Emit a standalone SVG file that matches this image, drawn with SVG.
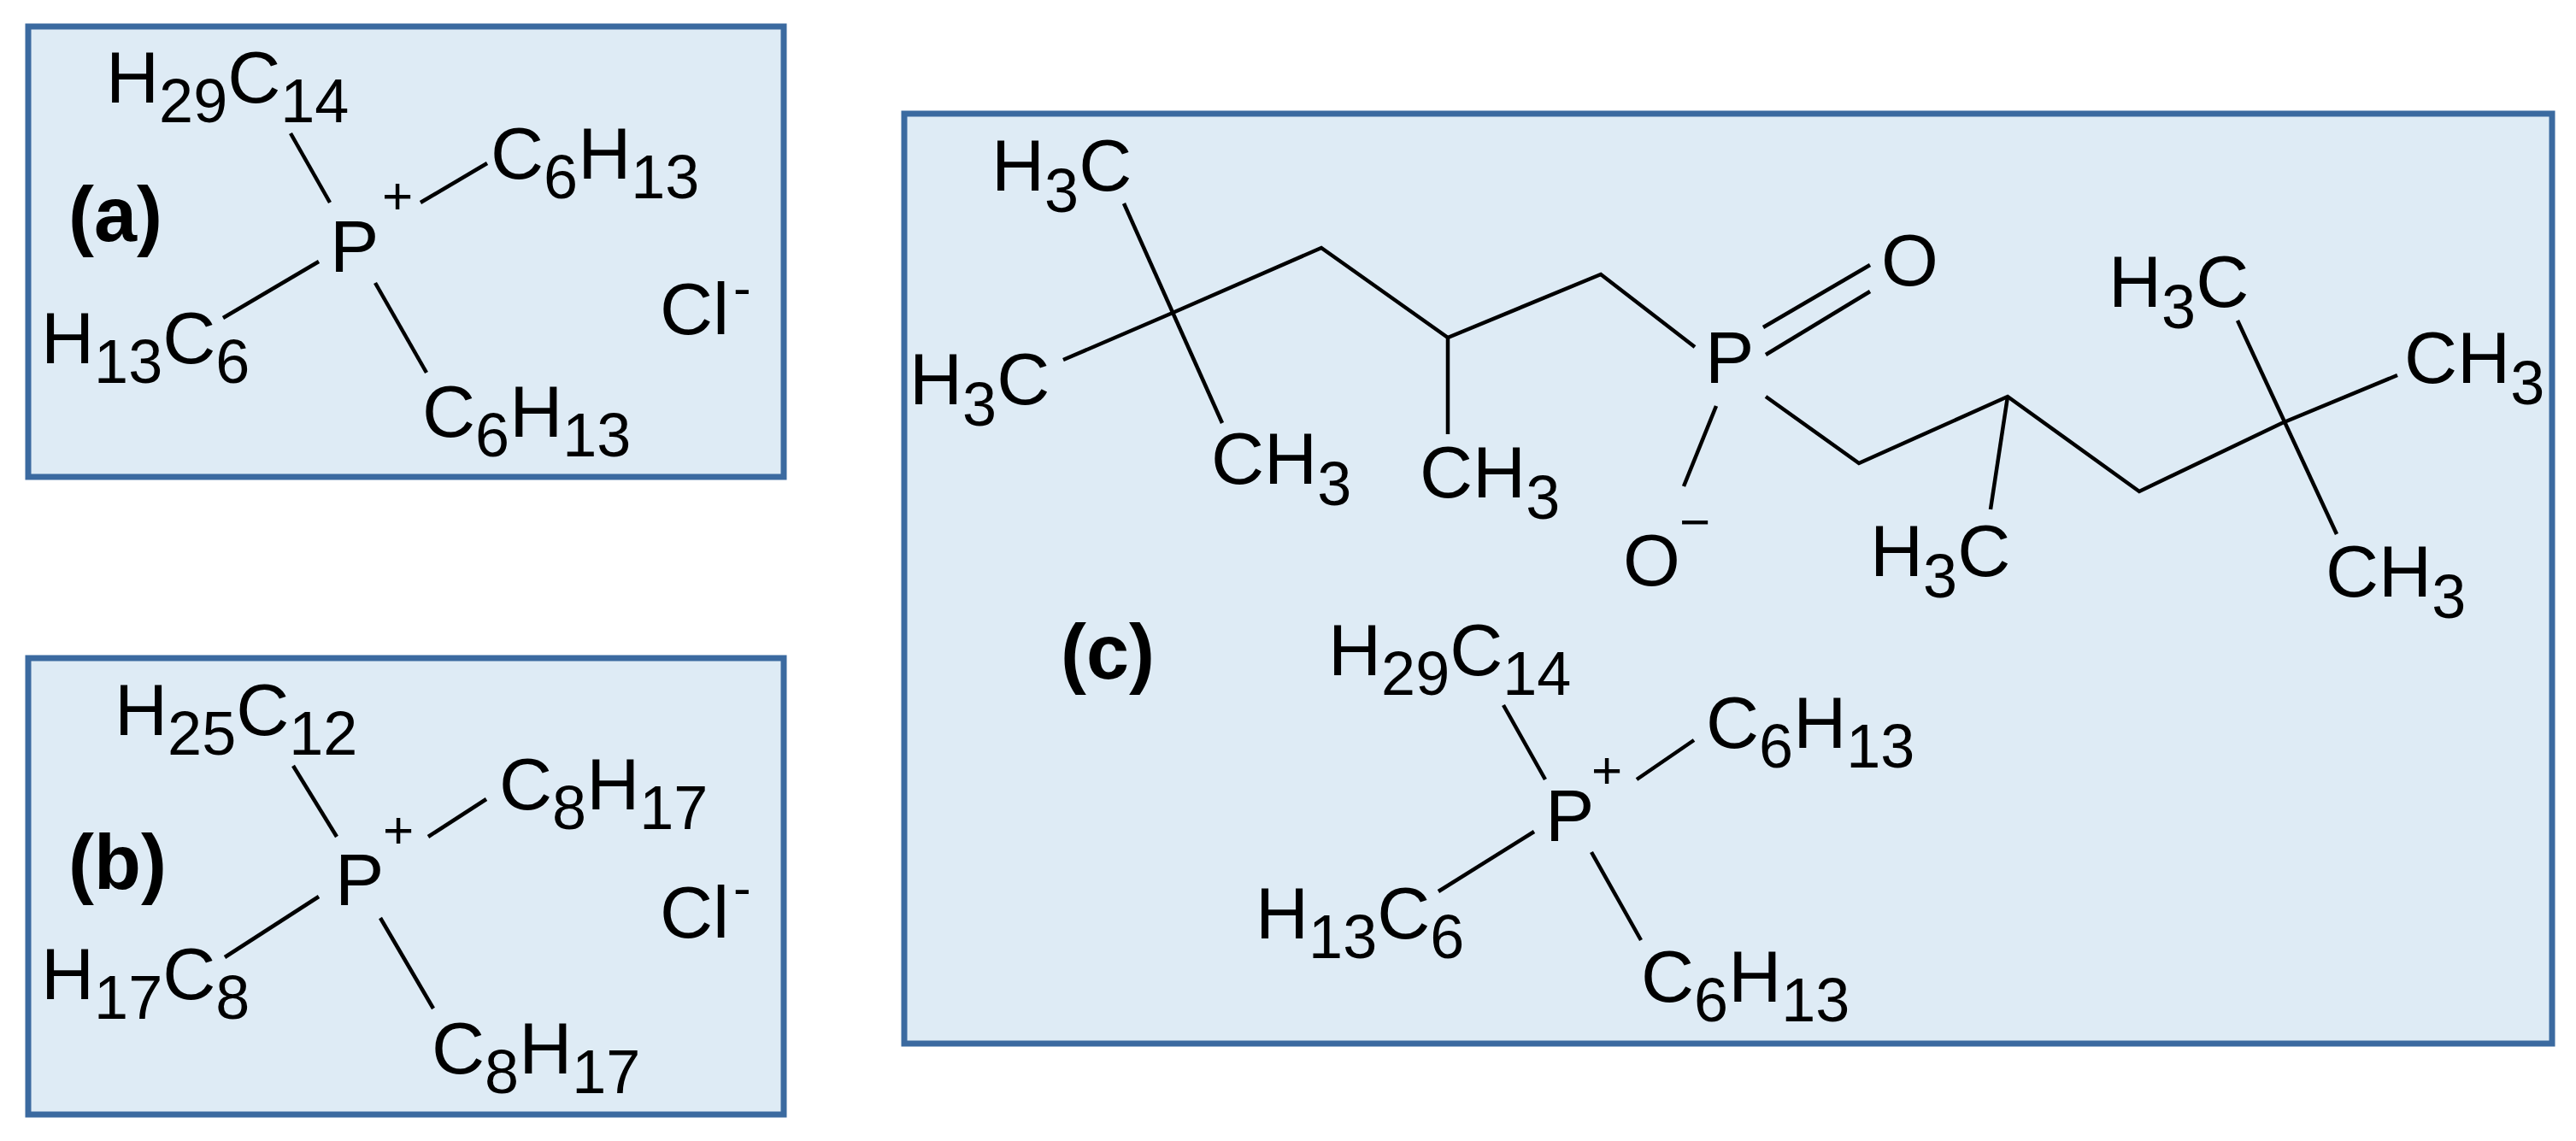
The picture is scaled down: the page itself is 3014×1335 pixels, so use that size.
<svg xmlns="http://www.w3.org/2000/svg" width="3014" height="1335" viewBox="0 0 3014 1335">
<style>
.box{fill:#deebf5;stroke:#3b6aa0;stroke-width:7}
text{font-family:"Liberation Sans",Arial,sans-serif;font-size:86px;fill:#000}
.s{font-size:72px}
.lab{font-weight:bold;font-size:90px}
.ch{font-size:62px}
.b{stroke:#000;stroke-width:4.5;fill:none;stroke-linecap:butt}
</style>
<rect width="3014" height="1335" fill="#fff"/>
<g id="panel-a">
<rect class="box" x="33" y="31" width="884" height="527"/>
<text class="lab" x="80" y="282">(a)</text>
<text x="124" y="120">H<tspan class="s" dy="23">29</tspan><tspan dy="-23">C</tspan><tspan class="s" dy="23">14</tspan></text>
<text x="386" y="318">P</text>
<text class="ch" x="447" y="250">+</text>
<text x="574" y="209">C<tspan class="s" dy="23">6</tspan><tspan dy="-23">H</tspan><tspan class="s" dy="23">13</tspan></text>
<text x="48" y="425">H<tspan class="s" dy="23">13</tspan><tspan dy="-23">C</tspan><tspan class="s" dy="23">6</tspan></text>
<text x="494" y="511">C<tspan class="s" dy="23">6</tspan><tspan dy="-23">H</tspan><tspan class="s" dy="23">13</tspan></text>
<text x="772" y="391">Cl</text>
<text class="ch" x="858" y="358">-</text>
</g>
<g id="panel-b">
<rect class="box" x="33" y="770" width="884" height="534"/>
<text class="lab" x="80" y="1040">(b)</text>
<text x="134" y="860">H<tspan class="s" dy="23">25</tspan><tspan dy="-23">C</tspan><tspan class="s" dy="23">12</tspan></text>
<text x="392" y="1059">P</text>
<text class="ch" x="448" y="992">+</text>
<text x="584" y="947">C<tspan class="s" dy="23">8</tspan><tspan dy="-23">H</tspan><tspan class="s" dy="23">17</tspan></text>
<text x="48" y="1169">H<tspan class="s" dy="23">17</tspan><tspan dy="-23">C</tspan><tspan class="s" dy="23">8</tspan></text>
<text x="505" y="1256">C<tspan class="s" dy="23">8</tspan><tspan dy="-23">H</tspan><tspan class="s" dy="23">17</tspan></text>
<text x="772" y="1097">Cl</text>
<text class="ch" x="858" y="1060">-</text>
</g>
<g id="panel-c">
<rect class="box" x="1058" y="133" width="1928" height="1088"/>
<text class="lab" x="1241" y="794">(c)</text>
<text x="1160" y="223">H<tspan class="s" dy="25">3</tspan><tspan dy="-25">C</tspan></text>
<text x="1064" y="473">H<tspan class="s" dy="25">3</tspan><tspan dy="-25">C</tspan></text>
<text x="1417" y="566">CH<tspan class="s" dy="25">3</tspan></text>
<text x="1661" y="582">CH<tspan class="s" dy="25">3</tspan></text>
<text x="1995" y="448">P</text>
<text x="2201" y="334">O</text>
<text x="1899" y="685">O</text>
<text class="ch" x="1965" y="632">−</text>
<text x="2467" y="359">H<tspan class="s" dy="25">3</tspan><tspan dy="-25">C</tspan></text>
<text x="2813" y="448">CH<tspan class="s" dy="25">3</tspan></text>
<text x="2188" y="674">H<tspan class="s" dy="25">3</tspan><tspan dy="-25">C</tspan></text>
<text x="2721" y="698">CH<tspan class="s" dy="25">3</tspan></text>
<text x="1554" y="790">H<tspan class="s" dy="23">29</tspan><tspan dy="-23">C</tspan><tspan class="s" dy="23">14</tspan></text>
<text x="1808" y="984">P</text>
<text class="ch" x="1862" y="922">+</text>
<text x="1996" y="875">C<tspan class="s" dy="23">6</tspan><tspan dy="-23">H</tspan><tspan class="s" dy="23">13</tspan></text>
<text x="1469" y="1098">H<tspan class="s" dy="23">13</tspan><tspan dy="-23">C</tspan><tspan class="s" dy="23">6</tspan></text>
<text x="1920" y="1172">C<tspan class="s" dy="23">6</tspan><tspan dy="-23">H</tspan><tspan class="s" dy="23">13</tspan></text>
</g>
<g id="connectors" class="b">
<line x1="340" y1="156" x2="386" y2="237"/>
<line x1="492" y1="237" x2="570" y2="191"/>
<line x1="373" y1="306" x2="261" y2="372"/>
<line x1="439" y1="331" x2="499" y2="436"/>
<line x1="343" y1="896" x2="394" y2="979"/>
<line x1="501" y1="979" x2="569" y2="935"/>
<line x1="373" y1="1049" x2="263" y2="1120"/>
<line x1="445" y1="1074" x2="507" y2="1180"/>
<line x1="1315" y1="238" x2="1430" y2="495"/>
<polyline points="1244,421 1372,366 1546,290 1694,395 1873,321 1983,406"/>
<line x1="1694" y1="395" x2="1694" y2="508"/>
<line x1="2063" y1="383" x2="2188" y2="310"/>
<line x1="2066" y1="415" x2="2188" y2="341"/>
<line x1="2008" y1="475" x2="1970" y2="569"/>
<polyline points="2066,464 2175,542 2349,464 2503,575 2670,495 2805,439"/>
<line x1="2349" y1="464" x2="2329" y2="596"/>
<line x1="2618" y1="375" x2="2734" y2="625"/>
<line x1="1759" y1="825" x2="1808" y2="912"/>
<line x1="1915" y1="912" x2="1982" y2="866"/>
<line x1="1795" y1="973" x2="1683" y2="1043"/>
<line x1="1862" y1="997" x2="1920" y2="1100"/>
</g>
</svg>
